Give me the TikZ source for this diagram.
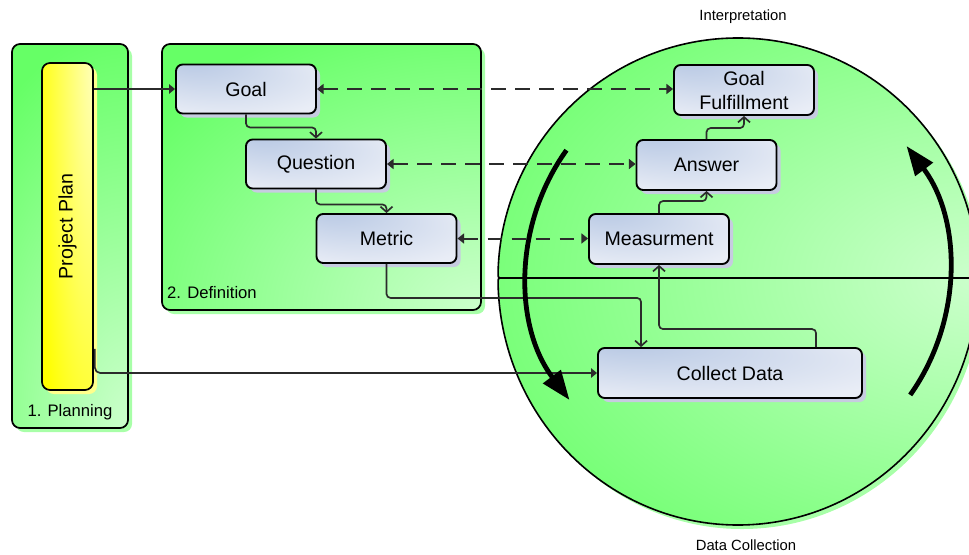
\documentclass[tikz,border=0pt]{standalone}
\usepackage{fontspec}
\setmainfont{Liberation Sans}
\usetikzlibrary{arrows.meta,shadows,calc}

\definecolor{nodeA}{HTML}{B6C7E3}
\definecolor{nodeB}{HTML}{E9EDF6}
\definecolor{nodeShadow}{HTML}{C6CCE0}
\definecolor{grnA}{HTML}{66FF66}
\definecolor{grnB}{HTML}{CCFFCC}
\definecolor{grnShadow}{HTML}{A8FFA8}
\definecolor{yelA}{HTML}{FFFF00}
\definecolor{yelB}{HTML}{FFFFB8}
\definecolor{yelShadow}{HTML}{FFFF8C}
\definecolor{wire}{HTML}{2B2B2B}

% bluish glow of the step boxes, darkest near the upper left
\pgfdeclareradialshading{nodeshade}{\pgfpoint{-22bp}{32bp}}{color(0bp)=(nodeA); color(38bp)=(nodeB); color(50bp)=(nodeB)}

\begin{document}
\begin{tikzpicture}[x=0.75pt, y=-0.75pt,
  every node/.style={font=\fontsize{14.7}{18}\selectfont, text=black},
  stage/.style={draw=black, line width=1.4pt, rounded corners=5pt,
    minimum width=105pt, minimum height=36.75pt, inner sep=0pt, align=center,
    fill=nodeB,
    path picture={\shade[shading=nodeshade] (path picture bounding box.south west) rectangle (path picture bounding box.north east);},
    drop shadow={shadow xshift=3pt, shadow yshift=-3pt, fill=nodeShadow, opacity=1}},
  groupbox/.style 2 args={draw=black, line width=1.3pt, rounded corners=6pt,
    inner sep=0pt, fill=grnA,
    path picture={\shade[inner color=grnB, outer color=grnA] (path picture bounding box.south east) ellipse [x radius=#1, y radius=#2];},
    drop shadow={shadow xshift=3pt, shadow yshift=-3pt, fill=grnShadow, opacity=1}},
  planbar/.style={draw=black, line width=1.3pt, rounded corners=6pt,
    inner sep=0pt, fill=yelA,
    path picture={\shade[inner color=yelB, outer color=yelA] (path picture bounding box.north east) ellipse [x radius=60, y radius=480];},
    drop shadow={shadow xshift=3pt, shadow yshift=-3pt, fill=yelShadow, opacity=1}},
  grouplabel/.style={font=\fontsize{12.5}{15}\selectfont, inner sep=0pt},
  phaselabel/.style={font=\fontsize{11.1}{13}\selectfont, inner sep=0pt},
  flow/.style={draw=wire, line width=1.25pt, rounded corners=3pt,
    -{Straight Barb[length=4pt,width=9pt]}},
  feed/.style={draw=wire, line width=1.25pt, rounded corners=4pt,
    -{Triangle[length=4.5pt,width=7pt]}},
  link/.style={draw=wire, line width=1.5pt, dash pattern=on 11pt off 7pt,
    {Triangle[length=5pt,width=7.5pt]}-{Triangle[length=5pt,width=7.5pt]}},
  bigarc/.style={draw=black, line width=3.6pt, -{Triangle[length=22pt,width=16pt]}},
  halfdisc/.style={draw=black, line width=1.2pt}
]
\useasboundingbox (0,0) rectangle (969,554);
\clip (0,0) rectangle (969,554);

% ---- interpretation / data collection disc, built from two halves ----
\coordinate (hub) at (738,278);
\coordinate (glow) at (978,278);
\fill[grnShadow] (507,282) .. controls (502,282) .. (502.05,277)
  arc[start angle=181.19, end angle=360, x radius=240, y radius=240] -- cycle;
\fill[grnShadow] (507,282) .. controls (502,282) .. (502.05,287)
  arc[start angle=178.84, end angle=0, x radius=240, y radius=247] -- cycle;
\begin{scope}
  \clip (503,278) .. controls (498,278) .. (498.05,273)
    arc[start angle=181.19, end angle=360, x radius=240, y radius=240] -- cycle;
  \fill[grnA] (480,20) rectangle (990,300);
  \shade[inner color=grnB, outer color=grnA] (glow) ellipse [x radius=600, y radius=390];
\end{scope}
\draw[halfdisc] (503,278) .. controls (498,278) .. (498.05,273)
  arc[start angle=181.19, end angle=360, x radius=240, y radius=240] -- cycle;
\begin{scope}
  \clip (503,278) .. controls (498,278) .. (498.05,283)
    arc[start angle=178.84, end angle=0, x radius=240, y radius=247] -- cycle;
  \fill[grnA] (480,260) rectangle (990,540);
  \shade[inner color=grnB, outer color=grnA] (glow) ellipse [x radius=600, y radius=390];
\end{scope}
\draw[halfdisc] (503,278) .. controls (498,278) .. (498.05,283)
  arc[start angle=178.84, end angle=0, x radius=240, y radius=247] -- cycle;

% ---- phase containers ----
\node[groupbox={210}{400}, minimum width=87pt, minimum height=288pt] (planning) at (70,236) {};
\node[groupbox={420}{310}, minimum width=239.25pt, minimum height=199.5pt] (definition) at (321.5,177) {};
\node[grouplabel] (planlbl) at (70,412) {1. Planning};
\node[grouplabel] (deflbl) at (212,293) {2. Definition};

\node[planbar, minimum width=38.25pt, minimum height=245.25pt] (pp) at (67.5,226.5) {};
\node[rotate=90] (pptext) at (pp.center) {Project Plan};

% ---- step boxes ----
\node[stage] (goal) at (246,89) {Goal};
\node[stage] (question) at (316,164) {Question};
\node[stage] (metric) at (386.5,238.5) {Metric};
\node[stage, minimum height=37.5pt] (gf) at (744,90) {Goal\\Fulfillment};
\node[stage, minimum height=37.5pt] (answer) at (706.5,165) {Answer};
\node[stage, minimum height=37.5pt] (meas) at (659,239) {Measurment};
\node[stage, minimum width=198pt, minimum height=37.5pt] (collect) at (730,373) {Collect Data};

\node[phaselabel] (interp) at (743,17) {Interpretation};
\node[phaselabel] (collectlbl) at (746,545) {Data Collection};

% ---- connectors ----
\draw[feed] (pp.east |- goal.west) -- (goal.west);
\draw[feed] ($(pp.south east)+(1,-42)$) |- (collect.west);
\draw[flow] (goal.south) -- ++(0,13) -| (question.north);
\draw[flow] (question.south) -- ++(0,15) -| (metric.north);
\draw[flow] (metric.south) -- ++(0,34) -| ($(collect.north west)+(44,0)$);
\draw[flow] ($(collect.north west)+(219,0)$) -- ++(0,-18) -| (meas.south);
\draw[flow] (meas.north) -- ++(0,-12) -| (answer.south);
\draw[flow] (answer.north) -- ++(0,-11) -| (gf.south);

\draw[link] (goal.east) -- (goal.east -| gf.west);
\draw[link] (question.east) -- (question.east -| answer.west);
\draw[link] (metric.east) -- (metric.east -| meas.west);

% ---- cycle arrows ----
\coordinate (ring) at (738,273);
\draw[bigarc] ([shift={(215.6:211)}]ring) arc[start angle=215.6, end angle=143, radius=211];
\draw[bigarc] ([shift={(35.3:211)}]ring) arc[start angle=35.3, end angle=-37, radius=211];
\end{tikzpicture}
\end{document}
